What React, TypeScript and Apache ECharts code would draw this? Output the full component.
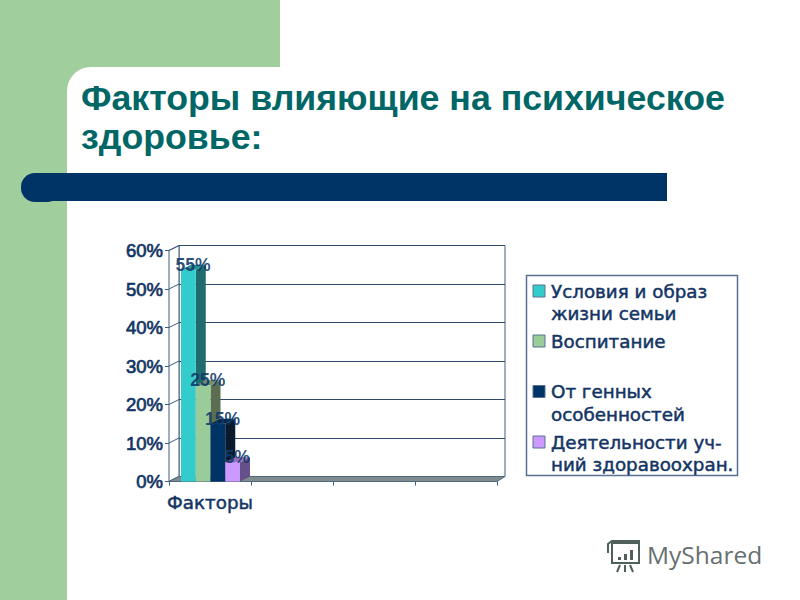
import React, { useEffect, useRef } from "react";
import * as echarts from "echarts";

const titleText = "Факторы влияющие на психическое\nздоровье:";
const categories = ["Факторы", "", "", ""];
const seriesNames = [
  "Условия и образ\nжизни семьи",
  "Воспитание",
  "От генных\nособенностей",
  "Деятельности уч-\nний здоравоохран.",
];
const seriesValues = [55, 25, 15, 5];
const seriesLabels = ["55%", "25%", "15%", "5%"];
const tickValues = [0, 10, 20, 30, 40, 50, 60];
const frontColors = ["#33CCCC", "#99CC99", "#003366", "#CC99FF"];
const sideColors = ["#1F6B6E", "#5C6E52", "#0A1A2E", "#66508A"];
const topColors = ["#2A8F92", "#75906F", "#06264A", "#9270BE"];

const DX = 10;
const DY = -5;
const BAR_W = 14.75;
const TEXT = "#143564";
const LINE = "#3F5C80";
const legendTops = [280, 330, 380.5, 431];

function wallsItem(params: any, api: any) {
  const cs = params.coordSys;
  const x0 = cs.x, x1 = cs.x + cs.width, yb = cs.y + cs.height, yt = cs.y;
  const diag = tickValues.map((v) => {
    const p = api.coord([0, v]);
    const left = cs.x;
    return {
      type: "line",
      shape: { x1: left, y1: p[1], x2: left + DX, y2: p[1] + DY },
      style: { stroke: LINE, lineWidth: 1 },
    };
  });
  return {
    type: "group",
    children: [
      {
        type: "polygon",
        shape: { points: [[x0, yb], [x0 + DX, yb + DY], [x0 + DX, yt + DY], [x0, yt]] },
        style: { fill: "#FFFFFF", stroke: LINE, lineWidth: 1 },
      },
      ...diag,
      {
        type: "polygon",
        shape: { points: [[x0, yb], [x1, yb], [x1 + 8, yb + DY], [x0 + DX, yb + DY]] },
        style: { fill: "#7E8C8E", stroke: "#51687F", lineWidth: 1 },
      },
    ],
  };
}

function barItem(idx: number) {
  return (_params: any, api: any) => {
    const top = api.coord([api.value(0), api.value(1)]);
    const base = api.coord([api.value(0), 0]);
    const band = api.size([1, 0])[0];
    const left = top[0] - band / 2 + 12 + idx * BAR_W;
    const right = left + BAR_W;
    return {
      type: "group",
      children: [
        {
          type: "polygon",
          shape: { points: [[right, top[1]], [right + DX, top[1] + DY], [right + DX, base[1] + DY], [right, base[1]]] },
          style: { fill: sideColors[idx] },
        },
        {
          type: "polygon",
          shape: { points: [[left, top[1]], [right, top[1]], [right + DX, top[1] + DY], [left + DX, top[1] + DY]] },
          style: { fill: topColors[idx] },
        },
        {
          type: "rect",
          shape: { x: left, y: top[1], width: BAR_W, height: base[1] - top[1] },
          style: { fill: frontColors[idx] },
        },
        {
          type: "text",
          z2: 50,
          style: {
            x: left + 12,
            y: top[1] - 5,
            text: seriesLabels[idx],
            fill: "#0F3A6A",
            font: "bold 17.5px 'Liberation Sans'",
            align: "center",
            verticalAlign: "middle",
            opacity: 0.9,
          },
        },
      ],
    };
  };
}

export default function App() {
  const ref = useRef<HTMLDivElement>(null);
  useEffect(() => {
    const chart = echarts.init(ref.current!, undefined, { renderer: "svg" });
    const axisLineStyle = { color: LINE, width: 1 };
    chart.setOption({
      animation: false,
      backgroundColor: "#FFFFFF",
      grid: [
        { left: 169, top: 250.5, width: 328, height: 231, outerBoundsMode: "none" },
        {
          left: 179, top: 245.5, width: 326, height: 231, outerBoundsMode: "none",
          show: true, backgroundColor: "#FFFFFF", borderColor: LINE, borderWidth: 1,
        },
      ],
      xAxis: [
        {
          type: "category",
          gridIndex: 0,
          data: categories,
          boundaryGap: true,
          axisLine: { show: true, lineStyle: axisLineStyle },
          axisTick: { show: true, length: 4, lineStyle: axisLineStyle, alignWithLabel: false },
          axisLabel: {
            interval: 0,
            margin: 12,
            color: TEXT,
            fontFamily: "DejaVu Sans",
            fontSize: 18.3,
            textBorderColor: TEXT,
            textBorderWidth: 0.5,
          },
          splitLine: { show: false },
        },
        { type: "value", gridIndex: 1, min: 0, max: 1, show: false },
      ],
      yAxis: [
        {
          type: "value",
          gridIndex: 0,
          min: 0,
          max: 60,
          interval: 10,
          axisLine: { show: true, lineStyle: axisLineStyle },
          axisTick: { show: true, length: 4, lineStyle: axisLineStyle },
          axisLabel: {
            formatter: "{value}%",
            margin: 6,
            color: TEXT,
            fontFamily: "Liberation Sans",
            fontSize: 18.5,
            textBorderColor: TEXT,
            textBorderWidth: 0.7,
          },
          splitLine: { show: false },
        },
        {
          type: "value",
          gridIndex: 1,
          min: 0,
          max: 60,
          interval: 10,
          axisLine: { show: false },
          axisTick: { show: false },
          axisLabel: { show: false },
          splitLine: { show: true, lineStyle: { color: "#2F4A6A", width: 1 } },
        },
      ],
      series: [
        {
          type: "custom",
          name: "walls",
          xAxisIndex: 0,
          yAxisIndex: 0,
          z: 1,
          silent: true,
          data: [[0, 0]],
          renderItem: wallsItem,
        },
        ...seriesNames.map((name, i) => ({
          type: "custom",
          name,
          xAxisIndex: 0,
          yAxisIndex: 0,
          z: 3 + i,
          silent: true,
          encode: { x: 0, y: 1 },
          data: [[0, seriesValues[i]]],
          renderItem: barItem(i),
        })),
      ],
      graphic: [
        { type: "rect", z: -10, shape: { x: 0, y: 0, width: 67, height: 600 }, style: { fill: "#A0CE9C" } },
        { type: "rect", z: -10, shape: { x: 67, y: 0, width: 213, height: 100 }, style: { fill: "#A0CE9C" } },
        { type: "rect", z: -9, shape: { x: 67, y: 67, width: 733, height: 533, r: [24, 0, 0, 0] }, style: { fill: "#FFFFFF" } },
        { type: "rect", z: -8, shape: { x: 21, y: 173, width: 40, height: 29, r: 14 }, style: { fill: "#003366" } },
        { type: "rect", z: -8, shape: { x: 35, y: 173, width: 632, height: 28 }, style: { fill: "#003366" } },
        {
          type: "text",
          z: 5,
          style: {
            x: 81,
            y: 78,
            text: titleText,
            fill: "#006666",
            font: "bold 35.7px 'Liberation Sans'",
            lineHeight: 39,
          },
        },
        { type: "rect", z: 5, shape: { x: 526.5, y: 275.5, width: 211, height: 200 }, style: { fill: "#FFFFFF", stroke: "#5A7090", lineWidth: 1.5 } },
        ...seriesNames.flatMap((name, i) => [
          {
            type: "rect",
            z: 6,
            shape: { x: 533, y: legendTops[i] + 5, width: 12, height: 12 },
            style: { fill: frontColors[i], stroke: "#5A7090", lineWidth: 1 },
          },
          {
            type: "text",
            z: 6,
            style: {
              x: 551,
              y: legendTops[i],
              text: name,
              fill: TEXT,
              stroke: TEXT,
              lineWidth: 0.5,
              font: "18.3px 'DejaVu Sans'",
              lineHeight: 22.5,
            },
          },
        ]),
        // watermark
        { type: "rect", z: 6, shape: { x: 612, y: 543, width: 27, height: 20 }, style: { fill: "none", stroke: "#4F5F5C", lineWidth: 2 } },
        { type: "polyline", z: 6, shape: { points: [[640, 541], [612, 541], [608, 544], [608, 553]] }, style: { fill: "none", stroke: "#4F5F5C", lineWidth: 2 } },
        { type: "rect", z: 6, shape: { x: 618, y: 557, width: 3, height: 3 }, style: { fill: "#4F5F5C" } },
        { type: "rect", z: 6, shape: { x: 624, y: 554, width: 3, height: 6 }, style: { fill: "#4F5F5C" } },
        { type: "rect", z: 6, shape: { x: 630, y: 550, width: 3, height: 10 }, style: { fill: "#4F5F5C" } },
        { type: "line", z: 6, shape: { x1: 620, y1: 565, x2: 617, y2: 572 }, style: { stroke: "#4F5F5C", lineWidth: 2 } },
        { type: "line", z: 6, shape: { x1: 625, y1: 565, x2: 625, y2: 572 }, style: { stroke: "#4F5F5C", lineWidth: 2 } },
        { type: "line", z: 6, shape: { x1: 630, y1: 565, x2: 633, y2: 572 }, style: { stroke: "#4F5F5C", lineWidth: 2 } },
        {
          type: "text",
          z: 6,
          style: {
            x: 647,
            y: 542,
            text: "MyShared",
            fill: "#66706F",
            font: "24.5px 'Open Sans'",
          },
        },
      ],
    });
    return () => chart.dispose();
  }, []);
  return (
    <div
      ref={ref}
      style={{ position: "fixed", left: 0, top: 0, width: 800, height: 600 }}
    />
  );
}
